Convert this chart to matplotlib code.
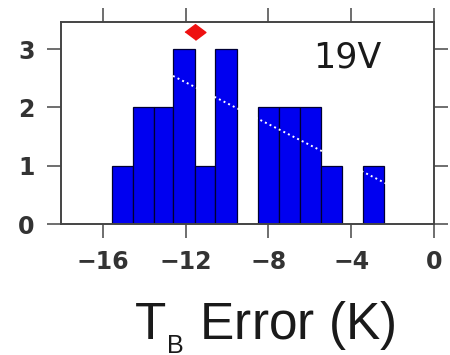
import numpy as np
import matplotlib.pyplot as plt

# histogram of TB errors for the 19V channel
bin_edges = [-15.56, -14.54, -13.55, -12.6, -11.55, -10.56, -9.5,
             -8.48, -7.47, -6.46, -5.45, -4.44, -3.45, -2.4]
counts = [1, 2, 2, 3, 1, 3, 0, 2, 2, 2, 1, 0, 1]

# mean error marker and the faint dotted trend line
mean_x = -11.53
mean_y = 3.29
trend_x = [-12.61, 0.0]
trend_y = [2.54, 0.28]

x_ticks = [-16, -12, -8, -4, 0]
y_ticks = [0, 1, 2, 3]
channel = "19V"

plt.rcParams['mathtext.fontset'] = 'custom'
plt.rcParams['mathtext.rm'] = 'Liberation Sans'

fig = plt.figure(figsize=(4.5, 3.55), dpi=100)
ax = fig.add_axes([61 / 450, 1 - 224 / 355, (434 - 61) / 450, (224 - 21.7) / 355])

edges = np.array(bin_edges)
ax.bar(edges[:-1], counts, width=np.diff(edges), align='edge',
       color='#0000f0', edgecolor='#000033', linewidth=0.9, zorder=2)

ax.plot(trend_x, trend_y, color='white', linestyle=':', linewidth=1.4, zorder=3)

diamond = [(-1, 0), (0, 0.75), (1, 0), (0, -0.75)]
ax.plot([mean_x], [mean_y], marker=diamond, markersize=15, color='#ee1111',
        linestyle='none', zorder=4)

ax.text(0.677, 0.823, channel, transform=ax.transAxes, ha='left', va='center',
        fontsize=25, family='DejaVu Sans', color='#1a1a1a')

ax.set_xlim(-18.02, 0)
ax.set_ylim(0, 3.47)
ax.set_xticks(x_ticks)
ax.set_yticks(y_ticks)

for s in ax.spines.values():
    s.set_color('#444444')
    s.set_linewidth(1.4)

ax.tick_params(direction='out', length=10, width=1.2, color='#555555',
               top=True, right=True, labelsize=17, labelcolor='#333333')
ax.tick_params(axis='x', pad=9)
ax.tick_params(axis='y', pad=9)
for lab in ax.get_xticklabels() + ax.get_yticklabels():
    lab.set_family('DejaVu Sans')
    lab.set_weight('bold')

ax.set_xlabel(r'$\mathrm{T}_{{}_{\mathrm{B}}}$ Error (K)', family='Liberation Sans',
              fontsize=37, color='#1a1a1a')
ax.xaxis.set_label_coords(0.547, -0.375)
ax.xaxis.label.set_va('top')

fig.savefig('out.png', dpi=100)
